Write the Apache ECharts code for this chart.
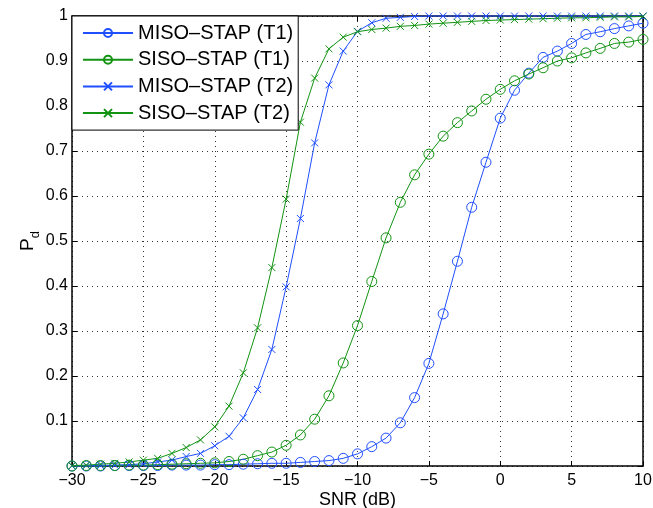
<!DOCTYPE html>
<html><head><meta charset="utf-8">
<script src="https://cdn.jsdelivr.net/npm/echarts@6/dist/echarts.min.js"></script>
<style>html,body{margin:0;padding:0;background:#fff}#c{width:653px;height:508px}</style>
</head><body><div id="c"></div>
<script>
const snrDb = [-30,-29,-28,-27,-26,-25,-24,-23,-22,-21,-20,-19,-18,-17,-16,-15,-14,-13,-12,-11,-10,-9,-8,-7,-6,-5,-4,-3,-2,-1,0,1,2,3,4,5,6,7,8,9,10];
const misoT1 = [0.000,0.000,0.000,0.001,0.001,0.001,0.001,0.002,0.002,0.002,0.003,0.003,0.004,0.005,0.006,0.006,0.008,0.010,0.012,0.017,0.027,0.043,0.062,0.096,0.152,0.228,0.338,0.455,0.575,0.675,0.773,0.835,0.873,0.908,0.922,0.939,0.959,0.965,0.972,0.978,0.984];
const sisoT1 = [0.000,0.001,0.001,0.001,0.002,0.002,0.003,0.004,0.005,0.006,0.007,0.010,0.015,0.023,0.031,0.046,0.069,0.104,0.156,0.229,0.312,0.410,0.507,0.586,0.647,0.693,0.733,0.763,0.789,0.815,0.837,0.856,0.871,0.885,0.900,0.907,0.918,0.928,0.939,0.942,0.948];
const misoT2 = [0.000,0.001,0.001,0.002,0.003,0.005,0.009,0.013,0.021,0.028,0.045,0.066,0.107,0.170,0.259,0.398,0.550,0.718,0.847,0.922,0.966,0.985,0.995,0.997,0.999,1.000,1.000,1.000,1.000,1.000,1.000,1.000,1.000,1.000,1.000,1.000,1.000,1.000,1.000,1.000,1.000];
const sisoT2 = [0.001,0.002,0.004,0.006,0.009,0.013,0.017,0.028,0.041,0.058,0.087,0.133,0.207,0.307,0.441,0.593,0.764,0.862,0.927,0.953,0.965,0.970,0.973,0.977,0.979,0.982,0.984,0.986,0.988,0.990,0.991,0.992,0.993,0.994,0.995,0.996,0.996,0.997,0.998,0.998,0.999];
const seriesNames = ['MISO\u2013STAP (T1)','SISO\u2013STAP (T1)','MISO\u2013STAP (T2)','SISO\u2013STAP (T2)'];
const xTickLabels = ['\u221230','\u221225','\u221220','\u221215','\u221210','\u22125','0','5','10'];
const yTickLabels = ['','0.1','0.2','0.3','0.4','0.5','0.6','0.7','0.8','0.9','1'];

const FONT = 'Liberation Sans, Arial, Helvetica, sans-serif';
const BLUE = '#1f4fff';
const GREEN = '#129412';
const CROSS = 'path://M0,0L10,10M10,0L0,10';

function mk(name, vals, color, sym) {
  const isCircle = sym === 'circle';
  return {
    name: name, type: 'line', color: color,
    data: snrDb.map((x, i) => [x, vals[i]]),
    symbol: isCircle ? 'circle' : CROSS,
    symbolSize: isCircle ? 10 : 7,
    showAllSymbol: true,
    lineStyle: { color: color, width: 1 },
    itemStyle: { color: isCircle ? 'rgba(0,0,0,0)' : color, borderColor: color, borderWidth: 1 },
    emphasis: { disabled: true },
    clip: false,
    z: 3
  };
}

const chart = echarts.init(document.getElementById('c'), null, { renderer: 'canvas' });
const axisLineStyle = { color: '#000', width: 1.5 };
chart.setOption({
  animation: false,
  backgroundColor: '#fff',
  textStyle: { fontFamily: FONT },
  grid: { left: 72, right: 10, top: 16, bottom: 42, containLabel: false, outerBoundsMode: 'none' },
  legend: {
    data: seriesNames, orient: 'vertical', left: 72, top: 16,
    itemWidth: 50, itemHeight: 10, itemGap: 6.7, itemTextGap: 5,
    padding: [7, 5, 7, 10], borderColor: '#000', borderWidth: 1, borderRadius: 0,
    backgroundColor: '#fff',
    textStyle: { fontSize: 20, fontFamily: FONT, color: '#000', lineHeight: 20 },
    selectedMode: false
  },
  xAxis: [{
    type: 'value', min: -30, max: 10, interval: 5, position: 'bottom',
    name: 'SNR (dB)', nameLocation: 'middle', nameGap: 24, nameMoveOverlap: false,
    nameTextStyle: { fontSize: 18, color: '#000', fontFamily: FONT, lineHeight: 20 },
    axisLine: { show: true, onZero: false, lineStyle: axisLineStyle },
    axisTick: { show: true, inside: true, length: 5, lineStyle: { color: '#000', width: 1 } },
    axisLabel: { fontSize: 16, color: '#000', margin: 7, fontFamily: FONT,
      formatter: v => xTickLabels[Math.round((v + 30) / 5)] },
    splitLine: { show: true, lineStyle: { color: '#333', width: 1, type: [1, 4] } }
  }, {
    type: 'value', min: -30, max: 10, interval: 5, position: 'top',
    axisLine: { show: true, onZero: false, lineStyle: axisLineStyle },
    axisTick: { show: true, inside: true, length: 5, lineStyle: { color: '#000', width: 1 } },
    axisLabel: { show: false }, splitLine: { show: false }
  }],
  yAxis: [{
    type: 'value', min: 0, max: 1, interval: 0.1, position: 'left',
    name: '{p|P}{s|d}', nameLocation: 'middle', nameGap: 30, nameRotate: 90, nameMoveOverlap: false,
    nameTextStyle: { color: '#000', fontFamily: FONT,
      rich: {
        p: { fontSize: 19, lineHeight: 28, verticalAlign: 'middle', fontFamily: FONT, color: '#000' },
        s: { fontSize: 13, lineHeight: 13, verticalAlign: 'bottom', fontFamily: FONT, color: '#000' }
      } },
    axisLine: { show: true, onZero: false, lineStyle: axisLineStyle },
    axisTick: { show: true, inside: true, length: 5, lineStyle: { color: '#000', width: 1 } },
    axisLabel: { fontSize: 16, color: '#000', margin: 4, fontFamily: FONT,
      formatter: v => yTickLabels[Math.round(v * 10)] },
    splitLine: { show: true, lineStyle: { color: '#333', width: 1, type: [1, 4] } }
  }, {
    type: 'value', min: 0, max: 1, interval: 0.1, position: 'right',
    axisLine: { show: true, onZero: false, lineStyle: axisLineStyle },
    axisTick: { show: true, inside: true, length: 5, lineStyle: { color: '#000', width: 1 } },
    axisLabel: { show: false }, splitLine: { show: false }
  }],
  series: [
    mk(seriesNames[0], misoT1, BLUE, 'circle'),
    mk(seriesNames[1], sisoT1, GREEN, 'circle'),
    mk(seriesNames[2], misoT2, BLUE, 'cross'),
    mk(seriesNames[3], sisoT2, GREEN, 'cross')
  ]
});
</script></body></html>
